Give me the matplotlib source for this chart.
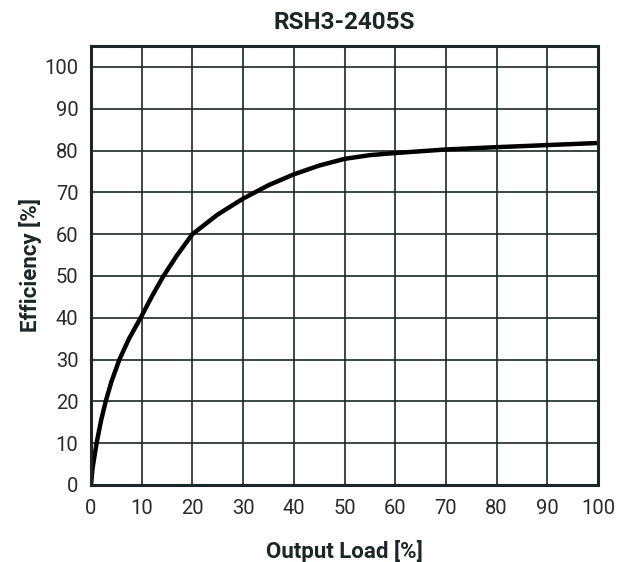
import matplotlib
matplotlib.use("Agg")
import matplotlib.pyplot as plt
from matplotlib import font_manager

# Data
load = [0, 0.3, 1.1, 2, 2.9, 4, 5.6, 7.5, 9.8, 12, 14.3, 17, 20, 25, 30, 35,
        40, 45, 50, 55, 60, 70, 80, 90, 100]
efficiency = [0, 4, 10, 15.5, 20, 24.6, 30, 35.0, 40, 45.1, 50, 55.0, 60, 64.7,
              68.5, 71.7, 74.3, 76.4, 78.0, 78.9, 79.4, 80.25, 80.8, 81.3, 81.8]
x_ticks = list(range(0, 101, 10))
y_ticks = list(range(0, 101, 10))

names = {f.name for f in font_manager.fontManager.ttflist}
fam = "Liberation Sans Narrow" if "Liberation Sans Narrow" in names else "Roboto"
plt.rcParams['font.family'] = [fam, 'DejaVu Sans']

ink = "#1c2626"
fig = plt.figure(figsize=(6.25, 5.62), dpi=100)
ax = fig.add_axes([91/625, 1-485/562, (598-91)/625, (485-46)/562])

ax.plot(load, efficiency, color="black", lw=3.2, solid_joinstyle="round")
ax.set_xlim(0, 100)
ax.set_ylim(0, 105)
ax.set_xticks(x_ticks)
ax.set_yticks(y_ticks)
ax.grid(True, color=ink, lw=1.2)
ax.tick_params(length=0, labelsize=14.5, colors="#2a2a2a")
ax.tick_params(axis="x", pad=10)
ax.tick_params(axis="y", pad=9)
for s in ax.spines.values():
    s.set_linewidth(2.2)
    s.set_color(ink)

ax.set_title("RSH3-2405S", fontsize=17.5, fontweight="bold", color=ink, pad=12)
ax.set_xlabel("Output Load [%]", fontsize=16, fontweight="bold", color=ink, labelpad=16)
ax.set_ylabel("Efficiency [%]", fontsize=16, fontweight="bold", color=ink, labelpad=2)

fig.savefig("out.png", dpi=100)
